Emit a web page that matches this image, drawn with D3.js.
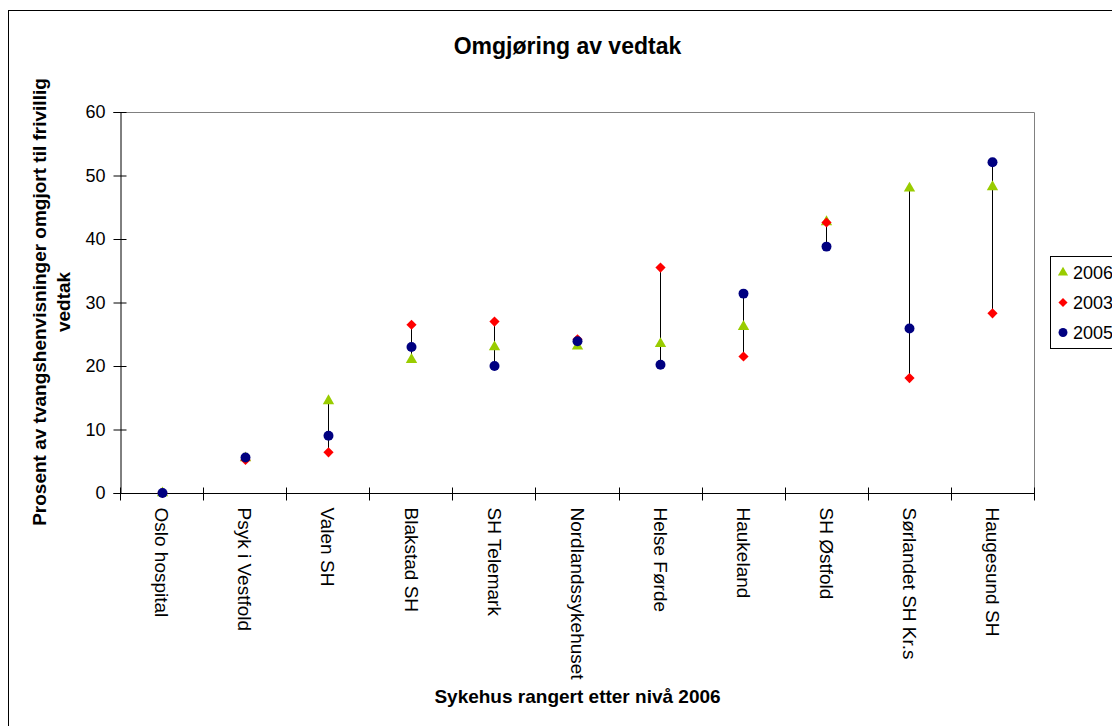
<!DOCTYPE html>
<html>
<head>
<meta charset="utf-8">
<script src="https://cdn.jsdelivr.net/npm/d3@7"></script>
<style>
  body { margin: 0; background: #fff; }
  svg { display: block; font-family: "Liberation Sans", Arial, sans-serif; }
</style>
</head>
<body>
<svg id="chart" width="1112" height="726"></svg>
<script>
// Hospitals, ranked by 2006 level
const categories = ["Oslo hospital", "Psyk i Vestfold", "Valen SH", "Blakstad SH", "SH Telemark",
  "Nordlandssykehuset", "Helse Førde", "Haukeland", "SH Østfold", "Sørlandet SH Kr.s", "Haugesund SH"];

// Percent of referrals converted to voluntary admission
const values2006 = [0, 5.5, 14.5, 21.0, 23.0, 23.1, 23.5, 26.2, 42.7, 48.0, 48.2];
const values2003 = [0, 5.2, 6.4, 26.5, 27.0, 24.2, 35.5, 21.5, 42.6, 18.1, 28.3];
const values2005 = [0, 5.6, 9.0, 23.0, 20.0, 23.9, 20.2, 31.4, 38.8, 25.9, 52.1];

const yTicks = [0, 10, 20, 30, 40, 50, 60];

// Square diamond (rotated square), as spreadsheet markers draw it
const squareDiamond = {
  draw(context, size) {
    const r = Math.sqrt(size / 2);
    context.moveTo(0, -r);
    context.lineTo(r, 0);
    context.lineTo(0, r);
    context.lineTo(-r, 0);
    context.closePath();
  }
};

const series = [
  { name: "2006", values: values2006, color: "#99cc00", shape: d3.symbolTriangle, size: 56 },
  { name: "2003", values: values2003, color: "#ff0000", shape: squareDiamond, size: 52 },
  { name: "2005", values: values2005, color: "#000080", shape: d3.symbolCircle, size: 78 }
];

const svg = d3.select("#chart");

// Outer chart frame
svg.append("rect")
  .attr("x", 8.5).attr("y", 10.5)
  .attr("width", 1120).attr("height", 730)
  .attr("fill", "#fff").attr("stroke", "#000").attr("stroke-width", 1);

const plot = { left: 120, right: 1034, top: 112, bottom: 493 };

const x = d3.scaleBand().domain(categories).range([plot.left, plot.right]);
const y = d3.scaleLinear().domain([0, 60]).range([plot.bottom, plot.top]);
const cx = d => Math.round(x(d) + x.bandwidth() / 2) + 0.5;

// Plot area border (top and right in grey)
svg.append("path")
  .attr("d", `M${plot.left},${plot.top + 0.5}H${plot.right + 0.5}V${plot.bottom}`)
  .attr("fill", "none").attr("stroke", "#808080").attr("stroke-width", 1);

// Y axis with crossing ticks
const yAxis = svg.append("g").attr("transform", `translate(${plot.left + 0.5},0)`)
  .call(d3.axisLeft(y).tickValues(yTicks).tickSize(7).tickPadding(8).tickFormat(d3.format("d")));
yAxis.select(".domain").attr("stroke", "#000");
yAxis.selectAll(".tick line").attr("x2", -7).attr("x1", 6).attr("stroke", "#000");
yAxis.selectAll(".tick text")
  .attr("font-size", 18).attr("font-family", "Liberation Sans, Arial, sans-serif").attr("fill", "#000");

// X axis: ticks at category boundaries
const xAxis = svg.append("g").attr("transform", `translate(0,${plot.bottom + 0.5})`);
xAxis.append("line")
  .attr("x1", plot.left).attr("x2", plot.right + 1)
  .attr("stroke", "#000");
const boundaries = categories.map(c => x(c)).concat([plot.right]);
xAxis.selectAll("line.tick").data(boundaries).join("line")
  .attr("class", "tick")
  .attr("x1", d => Math.round(d) + 0.5).attr("x2", d => Math.round(d) + 0.5)
  .attr("y1", -6).attr("y2", 7)
  .attr("stroke", "#000");

// Rotated category labels
xAxis.selectAll("text.cat").data(categories).join("text")
  .attr("class", "cat")
  .attr("transform", d => `translate(${x(d) + x.bandwidth() / 2},14) rotate(90)`)
  .attr("dy", "0.33em")
  .attr("text-anchor", "start")
  .attr("font-size", 19)
  .attr("fill", "#000")
  .text(d => d);

// High-low lines per hospital
svg.append("g").selectAll("line").data(categories).join("line")
  .attr("x1", cx).attr("x2", cx)
  .attr("y1", (d, i) => y(d3.max(series, s => s.values[i])))
  .attr("y2", (d, i) => y(d3.min(series, s => s.values[i])))
  .attr("stroke", "#000").attr("stroke-width", 1);

// Markers (2006 drawn first, 2005 on top)
series.forEach(s => {
  svg.append("g").selectAll("path").data(s.values).join("path")
    .attr("transform", (v, i) => `translate(${cx(categories[i])},${y(v)})`)
    .attr("d", d3.symbol().type(s.shape).size(s.size))
    .attr("fill", s.color);
});

// Title
svg.append("text")
  .attr("x", 567.5).attr("y", 54)
  .attr("text-anchor", "middle")
  .attr("font-size", 23).attr("font-weight", "bold")
  .text("Omgjøring av vedtak");

// Y axis title (two lines)
const yTitle = svg.append("text")
  .attr("transform", `translate(46,302) rotate(-90)`)
  .attr("text-anchor", "middle")
  .attr("font-size", 19).attr("font-weight", "bold");
yTitle.append("tspan").attr("x", 0).attr("dy", 0).text("Prosent av tvangshenvisninger omgjort til frivillig");
yTitle.append("tspan").attr("x", 0).attr("dy", 24).text("vedtak");

// X axis title
svg.append("text")
  .attr("x", 577.5).attr("y", 703)
  .attr("text-anchor", "middle")
  .attr("font-size", 19).attr("font-weight", "bold")
  .text("Sykehus rangert etter nivå 2006");

// Legend
const legend = svg.append("g").attr("transform", "translate(1050.5,256.5)");
legend.append("rect")
  .attr("width", 80).attr("height", 92)
  .attr("fill", "#fff").attr("stroke", "#000");
series.forEach((s, i) => {
  const row = legend.append("g").attr("transform", `translate(0,${16 + i * 30})`);
  row.append("path")
    .attr("transform", "translate(12.5,0)")
    .attr("d", d3.symbol().type(s.shape).size(s.size * 0.8))
    .attr("fill", s.color);
  row.append("text")
    .attr("x", 22.5).attr("dy", "0.36em")
    .attr("font-size", 18)
    .text(s.name);
});
</script>
</body>
</html>
